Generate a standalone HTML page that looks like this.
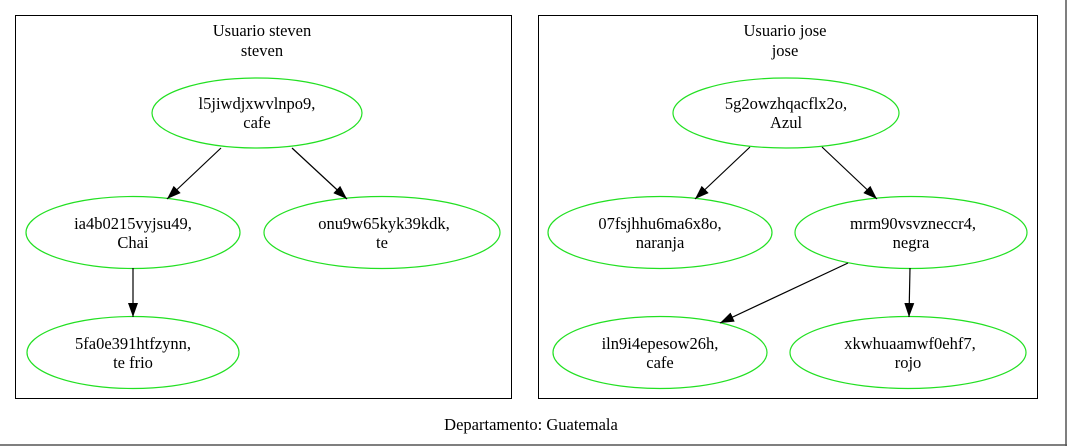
<!DOCTYPE html>
<html><head><style>
html,body{margin:0;padding:0;background:#fff;}
svg{display:block;}
text{font-family:"Liberation Serif",serif;font-size:16.5px;fill:#000;}
</style></head><body>
<svg width="1067" height="446" viewBox="0 0 1067 446" xmlns="http://www.w3.org/2000/svg">
<defs>
<marker id="a" markerWidth="14" markerHeight="10" refX="14" refY="5" orient="auto" markerUnits="userSpaceOnUse">
<path d="M0,0 L14,5 L0,10 Z" fill="#000"/>
</marker>
</defs>
<rect width="1067" height="446" fill="#fff"/>
<line x1="1066" y1="0" x2="1066" y2="446" stroke="#555" stroke-width="1.5"/>
<line x1="0" y1="445" x2="1067" y2="445" stroke="#555" stroke-width="1.5"/>
<rect x="15.5" y="15.5" width="496" height="383" fill="none" stroke="#000"/>
<rect x="538.5" y="15.5" width="499" height="383" fill="none" stroke="#000"/>
<g text-anchor="middle">
<text x="262" y="36">Usuario steven</text><text x="262" y="56">steven</text>
<text x="785" y="36">Usuario jose</text><text x="785" y="56">jose</text>
<text x="531" y="430">Departamento: Guatemala</text>
</g>
<g fill="none" stroke="#22e022" stroke-width="1.2">
<ellipse cx="257" cy="113" rx="105" ry="35"/>
<ellipse cx="133" cy="232.5" rx="107" ry="36"/>
<ellipse cx="382" cy="232.5" rx="118" ry="36"/>
<ellipse cx="133" cy="352.5" rx="106" ry="36"/>
<ellipse cx="786" cy="113" rx="113" ry="35"/>
<ellipse cx="660" cy="232.5" rx="112" ry="36"/>
<ellipse cx="911" cy="232.5" rx="116" ry="36"/>
<ellipse cx="660" cy="352.5" rx="107" ry="36"/>
<ellipse cx="908" cy="352.5" rx="118" ry="36"/>
</g>
<g stroke="#000" stroke-width="1.2" marker-end="url(#a)">
<line x1="221" y1="148" x2="167" y2="199"/>
<line x1="292" y1="148" x2="347" y2="199"/>
<line x1="133" y1="268" x2="133" y2="317"/>
<line x1="750" y1="147" x2="695" y2="199"/>
<line x1="822" y1="147" x2="877" y2="199"/>
<line x1="848" y1="263" x2="720" y2="323"/>
<line x1="910" y1="268" x2="909" y2="317"/>
</g>
<g text-anchor="middle">
<text x="257" y="109">l5jiwdjxwvlnpo9,</text><text x="257" y="128">cafe</text>
<text x="133" y="229">ia4b0215vyjsu49,</text><text x="133" y="248">Chai</text>
<text x="384" y="229">onu9w65kyk39kdk,</text><text x="382" y="248">te</text>
<text x="133" y="349">5fa0e391htfzynn,</text><text x="133" y="368">te frio</text>
<text x="786" y="109">5g2owzhqacflx2o,</text><text x="786" y="128">Azul</text>
<text x="660" y="229">07fsjhhu6ma6x8o,</text><text x="660" y="248">naranja</text>
<text x="913" y="229">mrm90vsvzneccr4,</text><text x="911" y="248">negra</text>
<text x="660" y="349">iln9i4epesow26h,</text><text x="660" y="368">cafe</text>
<text x="910" y="349">xkwhuaamwf0ehf7,</text><text x="908" y="368">rojo</text>
</g>
</svg>
</body></html>
